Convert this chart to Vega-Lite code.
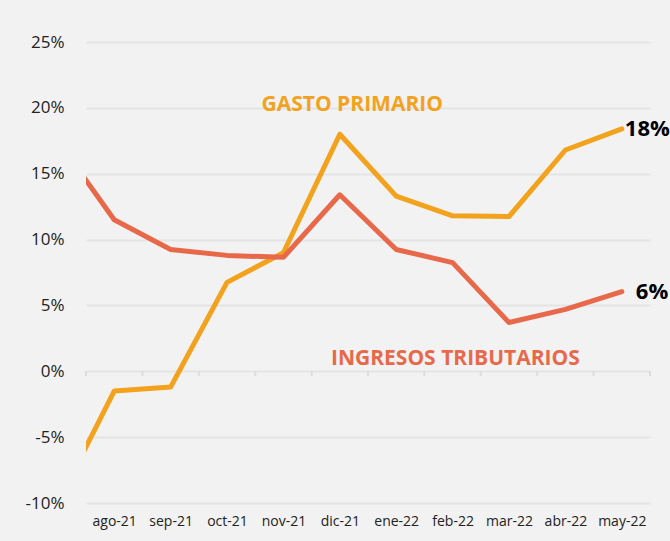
{
  "$schema": "https://vega.github.io/schema/vega-lite/v6.json",
  "autosize": {"type": "none"},
  "width": 564,
  "height": 461,
  "padding": {"left": 86, "top": 42, "right": 20, "bottom": 38},
  "background": "#f2f2f2",
  "config": {
    "view": {"stroke": null},
    "font": "Open Sans"
  },
  "datasets": {
    "series": [
      {"i": 0, "mes": "jul-21", "serie": "Gasto primario", "v": -10.0},
      {"i": 1, "mes": "ago-21", "serie": "Gasto primario", "v": -1.5},
      {"i": 2, "mes": "sep-21", "serie": "Gasto primario", "v": -1.2},
      {"i": 3, "mes": "oct-21", "serie": "Gasto primario", "v": 6.75},
      {"i": 4, "mes": "nov-21", "serie": "Gasto primario", "v": 9.0},
      {"i": 5, "mes": "dic-21", "serie": "Gasto primario", "v": 18.0},
      {"i": 6, "mes": "ene-22", "serie": "Gasto primario", "v": 13.3},
      {"i": 7, "mes": "feb-22", "serie": "Gasto primario", "v": 11.8},
      {"i": 8, "mes": "mar-22", "serie": "Gasto primario", "v": 11.75},
      {"i": 9, "mes": "abr-22", "serie": "Gasto primario", "v": 16.8},
      {"i": 10, "mes": "may-22", "serie": "Gasto primario", "v": 18.4},
      {"i": 0, "mes": "jul-21", "serie": "Ingresos tributarios", "v": 17.5},
      {"i": 1, "mes": "ago-21", "serie": "Ingresos tributarios", "v": 11.5},
      {"i": 2, "mes": "sep-21", "serie": "Ingresos tributarios", "v": 9.25},
      {"i": 3, "mes": "oct-21", "serie": "Ingresos tributarios", "v": 8.8},
      {"i": 4, "mes": "nov-21", "serie": "Ingresos tributarios", "v": 8.65},
      {"i": 5, "mes": "dic-21", "serie": "Ingresos tributarios", "v": 13.4},
      {"i": 6, "mes": "ene-22", "serie": "Ingresos tributarios", "v": 9.25},
      {"i": 7, "mes": "feb-22", "serie": "Ingresos tributarios", "v": 8.25},
      {"i": 8, "mes": "mar-22", "serie": "Ingresos tributarios", "v": 3.7},
      {"i": 9, "mes": "abr-22", "serie": "Ingresos tributarios", "v": 4.7},
      {"i": 10, "mes": "may-22", "serie": "Ingresos tributarios", "v": 6.05}
    ],
    "ticks": [
      {"b": 0.5}, {"b": 1.5}, {"b": 2.5}, {"b": 3.5}, {"b": 4.5}, {"b": 5.5},
      {"b": 6.5}, {"b": 7.5}, {"b": 8.5}, {"b": 9.5}, {"b": 10.5}
    ],
    "notes": [
      {"t": "GASTO PRIMARIO", "x": 5.22, "y": 20.2, "c": "#f2a21c"},
      {"t": "INGRESOS TRIBUTARIOS", "x": 7.05, "y": 0.95, "c": "#e8694a"}
    ]
  },
  "layer": [
    {
      "data": {"name": "ticks"},
      "mark": {"type": "rule", "color": "#dcdcdc", "strokeWidth": 2},
      "encoding": {
        "x": {
          "field": "b", "type": "quantitative",
          "scale": {"domain": [0.5, 10.5], "nice": false, "zero": false},
          "axis": {
            "values": [1, 2, 3, 4, 5, 6, 7, 8, 9, 10],
            "labelExpr": "['jul-21','ago-21','sep-21','oct-21','nov-21','dic-21','ene-22','feb-22','mar-22','abr-22','may-22'][datum.value]",
            "title": null, "grid": false, "ticks": false, "domain": false,
            "labelFontSize": 14, "labelColor": "#222222", "labelPadding": 11
          }
        },
        "y": {
          "datum": 0, "type": "quantitative",
          "scale": {"domain": [-10, 25], "nice": false},
          "axis": {
            "values": [-10, -5, 0, 5, 10, 15, 20, 25],
            "labelExpr": "datum.value + '%'",
            "title": null, "ticks": false, "domain": false, "grid": true,
            "gridColor": "#e4e4e4", "gridWidth": 2,
            "labelFontSize": 17, "labelColor": "#222222", "labelPadding": 22
          }
        },
        "y2": {"datum": -0.35}
      }
    },
    {
      "data": {"name": "series"},
      "mark": {"type": "line", "strokeWidth": 5, "strokeCap": "round", "strokeJoin": "round", "clip": true},
      "encoding": {
        "x": {"field": "i", "type": "quantitative"},
        "y": {"field": "v", "type": "quantitative"},
        "color": {
          "field": "serie", "type": "nominal",
          "scale": {"domain": ["Gasto primario", "Ingresos tributarios"], "range": ["#f2a21c", "#e8694a"]},
          "legend": null
        },
        "order": {"field": "i", "type": "quantitative"}
      }
    },
    {
      "data": {"name": "notes"},
      "mark": {"type": "text", "fontWeight": "bold", "fontSize": 21, "align": "center", "baseline": "middle"},
      "encoding": {
        "x": {"field": "x", "type": "quantitative"},
        "y": {"field": "y", "type": "quantitative"},
        "text": {"field": "t"},
        "color": {"field": "c", "type": "nominal", "scale": null}
      }
    },
    {
      "data": {"name": "series"},
      "transform": [{"filter": "datum.i == 10 && datum.serie == 'Gasto primario'"}],
      "mark": {"type": "text", "fontWeight": "bold", "fontSize": 22, "align": "left", "baseline": "middle", "dx": 3, "color": "#000000"},
      "encoding": {
        "x": {"field": "i", "type": "quantitative"},
        "y": {"field": "v", "type": "quantitative"},
        "text": {"value": "18%"}
      }
    },
    {
      "data": {"name": "series"},
      "transform": [{"filter": "datum.i == 10 && datum.serie == 'Ingresos tributarios'"}],
      "mark": {"type": "text", "fontWeight": "bold", "fontSize": 22, "align": "left", "baseline": "middle", "dx": 14, "color": "#000000"},
      "encoding": {
        "x": {"field": "i", "type": "quantitative"},
        "y": {"field": "v", "type": "quantitative"},
        "text": {"value": "6%"}
      }
    }
  ]
}
